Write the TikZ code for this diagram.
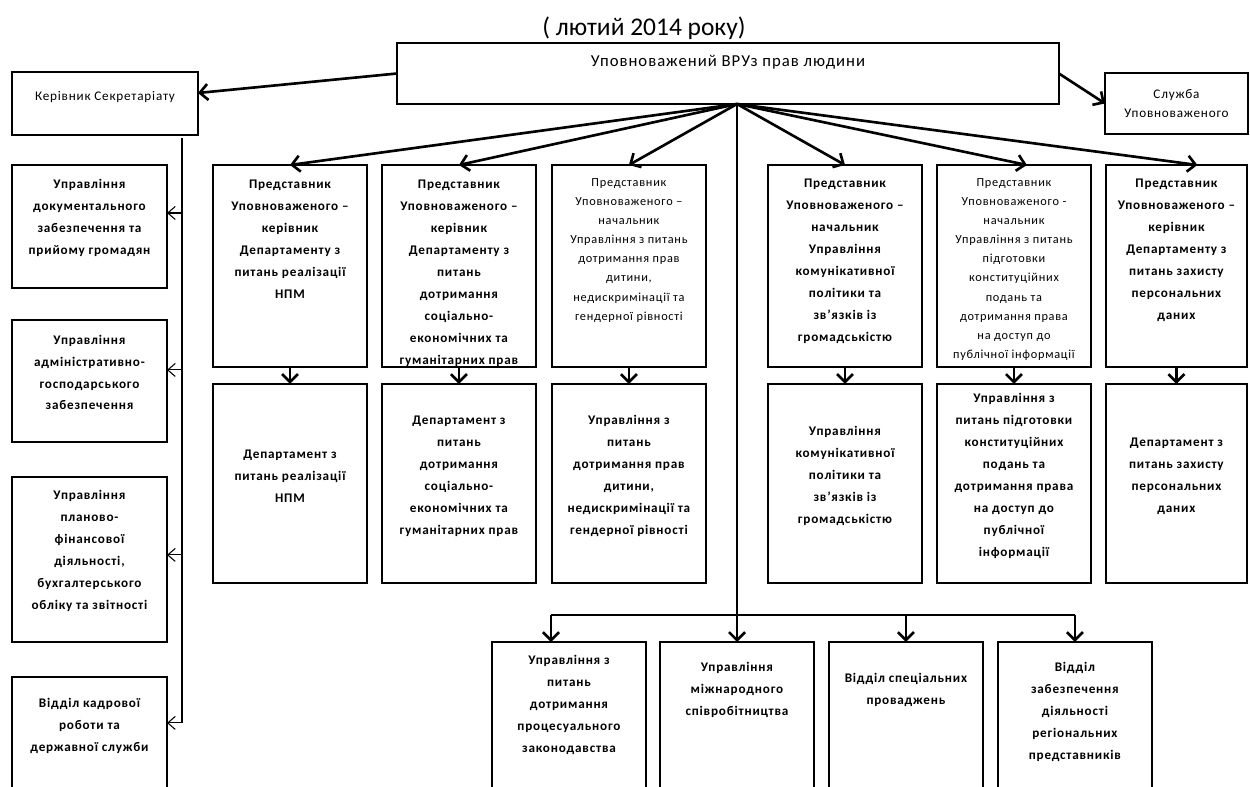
\documentclass[tikz,border=0pt]{standalone}
\usepackage{fontspec}
\setmainfont{Carlito}[LetterSpace=6]
\newfontfamily\titlefont{Carlito}
\usetikzlibrary{positioning,arrows.meta}

\begin{document}
\begin{tikzpicture}[x=0.02cm, y=-0.02cm, node distance=3mm,
box/.style={draw, line width=1.5pt, minimum width=3.08cm, inner sep=0pt, outer sep=0pt, anchor=north west},
rep/.style={box, minimum height=4.04cm},
dep/.style={box, minimum height=3.98cm},
side/.style={box, minimum width=3.1cm},
btxt/.style={align=center, inner sep=0pt, font=\fontsize{7.5}{12.5}\selectfont\bfseries},
rtxt/.style={align=center, inner sep=0pt, font=\fontsize{7}{10.9}\selectfont},
arr/.style={line width=1.5pt, -{Straight Barb[length=1.6mm,width=3.2mm]}},
tarr/.style={line width=0.6pt, -{Straight Barb[length=1.5mm,width=2.6mm]}},
tline/.style={line width=0.7pt}]
\tikzstyle{every node}=[font=\fontsize{7.5}{12.5}\selectfont]
\useasboundingbox (0,0) rectangle (1250,787);
\clip (0,0) rectangle (1250,787);

% title and head
\node[font=\titlefont\fontsize{14.5}{16}\selectfont] (title) at (644,28) {( лютий 2014 року)};
\node[box, minimum width=13.24cm, minimum height=1.22cm] (upov) at (397,43) {};
\node[inner sep=0pt, font=\fontsize{9.5}{11}\selectfont, below=2.4mm of upov.north] (upovt) {Уповноважений ВРУз прав людини};
\node[box, minimum width=3.72cm, minimum height=1.26cm] (ker) at (12,72) {};
\node[inner sep=0pt] (kert) at ([yshift=1.2mm]ker.center) {Керівник Секретаріату};
\node[box, minimum width=2.86cm, minimum height=1.22cm, align=center, font=\fontsize{7.5}{11}\selectfont] (sluzh) at (1105,73) {Служба\\Уповноваженого};

% secretariat units
\node[side, minimum height=2.46cm] (l1) at (12,165) {};
\node[side, minimum height=2.44cm, below=6.4mm of l1] (l2) {};
\node[side, minimum height=3.3cm, below=7mm of l2] (l3) {};
\node[side, minimum height=2.6cm, below=7mm of l3] (l4) {};
\node[btxt] (l1t) at ([yshift=1.7mm]l1.center) {Управління\\документального\\забезпечення та\\прийому громадян};
\node[btxt] (l2t) at ([yshift=1.7mm]l2.center) {Управління\\адміністративно-\\господарського\\забезпечення};
\node[btxt] (l3t) at ([yshift=1.7mm]l3.center) {Управління\\планово-\\фінансової\\діяльності,\\бухгалтерського\\обліку та звітності};
\node[btxt, below=4.2mm of l4.north] (l4t) {Відділ кадрової\\роботи та\\державної служби};

% representatives
\node[rep] (r1) at (213,165) {};
\node[rep, right=3mm of r1] (r2) {};
\node[rep, right=3.2mm of r2] (r3) {};
\node[rep] (r4) at (768,165) {};
\node[rep, right=3mm of r4] (r5) {};
\node[rep, minimum width=2.82cm, right=3mm of r5] (r6) {};
\node[btxt, below=3mm of r1.north] (r1t) {Представник\\Уповноваженого –\\керівник\\Департаменту з\\питань реалізації\\НПМ};
\node[btxt, below=3mm of r2.north] (r2t) {Представник\\Уповноваженого –\\керівник\\Департаменту з\\питань\\дотримання\\соціально-\\економічних та\\гуманітарних прав};
\node[rtxt, below=2.6mm of r3.north] (r3t) {Представник\\Уповноваженого –\\начальник\\Управління з питань\\дотримання прав\\дитини,\\недискримінації та\\гендерної рівності};
\node[btxt, below=2.8mm of r4.north] (r4t) {Представник\\Уповноваженого –\\начальник\\Управління\\комунікативної\\політики та\\зв’язків із\\громадськістю};
\node[rtxt, below=2.6mm of r5.north] (r5t) {Представник\\Уповноваженого -\\начальник\\Управління з питань\\підготовки\\конституційних\\подань та\\дотримання права\\на доступ до\\публічної інформації};
\node[btxt, below=2.8mm of r6.north] (r6t) {Представник\\Уповноваженого –\\керівник\\Департаменту з\\питань захисту\\персональних\\даних};

% departments
\node[dep, below=3.4mm of r1] (d1) {};
\node[dep, below=3.4mm of r2] (d2) {};
\node[dep, below=3.4mm of r3] (d3) {};
\node[dep, below=3.4mm of r4] (d4) {};
\node[dep, below=3.4mm of r5] (d5) {};
\node[dep, minimum width=2.82cm, below=3.4mm of r6] (d6) {};
\node[btxt] (d1t) at ([yshift=1.5mm]d1.center) {Департамент з\\питань реалізації\\НПМ};
\node[btxt] (d2t) at ([yshift=1.5mm]d2.center) {Департамент з\\питань\\дотримання\\соціально-\\економічних та\\гуманітарних прав};
\node[btxt] (d3t) at ([yshift=1.5mm]d3.center) {Управління з\\питань\\дотримання прав\\дитини,\\недискримінації та\\гендерної рівності};
\node[btxt] (d4t) at ([yshift=1.5mm]d4.center) {Управління\\комунікативної\\політики та\\зв’язків із\\громадськістю};
\node[btxt] (d5t) at ([yshift=1.5mm]d5.center) {Управління з\\питань підготовки\\конституційних\\подань та\\дотримання права\\на доступ до\\публічної\\інформації};
\node[btxt] (d6t) at ([yshift=1.5mm]d6.center) {Департамент з\\питань захисту\\персональних\\даних};

% bottom row
\node[box, minimum height=3cm] (b1) at (492,642) {};
\node[box, minimum height=3cm, right=2.8mm of b1] (b2) {};
\node[box, minimum height=3cm, right=3mm of b2] (b3) {};
\node[box, minimum height=3cm, right=3mm of b3] (b4) {};
\node[btxt, below=2.6mm of b1.north] (b1t) {Управління з\\питань\\дотримання\\процесуального\\законодавства};
\node[btxt, below=4mm of b2.north] (b2t) {Управління\\міжнародного\\співробітництва};
\node[btxt, below=6.2mm of b3.north] (b3t) {Відділ спеціальних\\проваджень};
\node[btxt, below=4mm of b4.north] (b4t) {Відділ\\забезпечення\\діяльності\\регіональних\\представників};

% connectors
\coordinate (hub) at (737,104);
\coordinate (bus) at (737,615);
\coordinate (sec) at (182,138);
\draw[arr] (upov.west) -- ([yshift=2.1mm]ker.east);
\draw[arr] (upov.east) -- (sluzh.west);
\draw[arr] (hub) -- (r1.north);
\draw[arr] (hub) -- (r2.north);
\draw[arr] (hub) -- (r3.north);
\draw[arr] (hub) -- (r4.north);
\draw[arr] (hub) -- ([xshift=2.6mm]r5.north);
\draw[arr] (hub) -- ([xshift=4.2mm]r6.north);
\draw[arr] (r1) -- (d1);
\draw[arr] (r2) -- (d2);
\draw[arr] (r3) -- (d3);
\draw[arr] (r4) -- (d4);
\draw[arr] (r5) -- (d5);
\draw[arr] (r6) -- (d6);

\coordinate (l1in) at ([yshift=2.7mm]l1.east);
\coordinate (l2in) at ([yshift=2.2mm]l2.east);
\coordinate (l3in) at ([yshift=0.9mm]l3.east);
\coordinate (l4in) at ([yshift=3.8mm]l4.east);
\draw[tline] (sec) -- (sec |- l4in);
\draw[tarr] (sec |- l1in) -- (l1in);
\draw[tarr] (sec |- l2in) -- (l2in);
\draw[tarr] (sec |- l3in) -- (l3in);
\draw[tarr] (sec |- l4in) -- (l4in);

\coordinate (b1in) at ([xshift=-3.6mm]b1.north);
\draw[tline] (hub) -- (bus);
\draw[tline] (b1in |- bus) -- (b4.north |- bus);
\draw[arr] (bus) -- (bus |- b2.north);
\draw[arr] (b1in |- bus) -- (b1in);
\draw[arr] (b3.north |- bus) -- (b3.north);
\draw[arr] (b4.north |- bus) -- (b4.north);
\end{tikzpicture}
\end{document}
